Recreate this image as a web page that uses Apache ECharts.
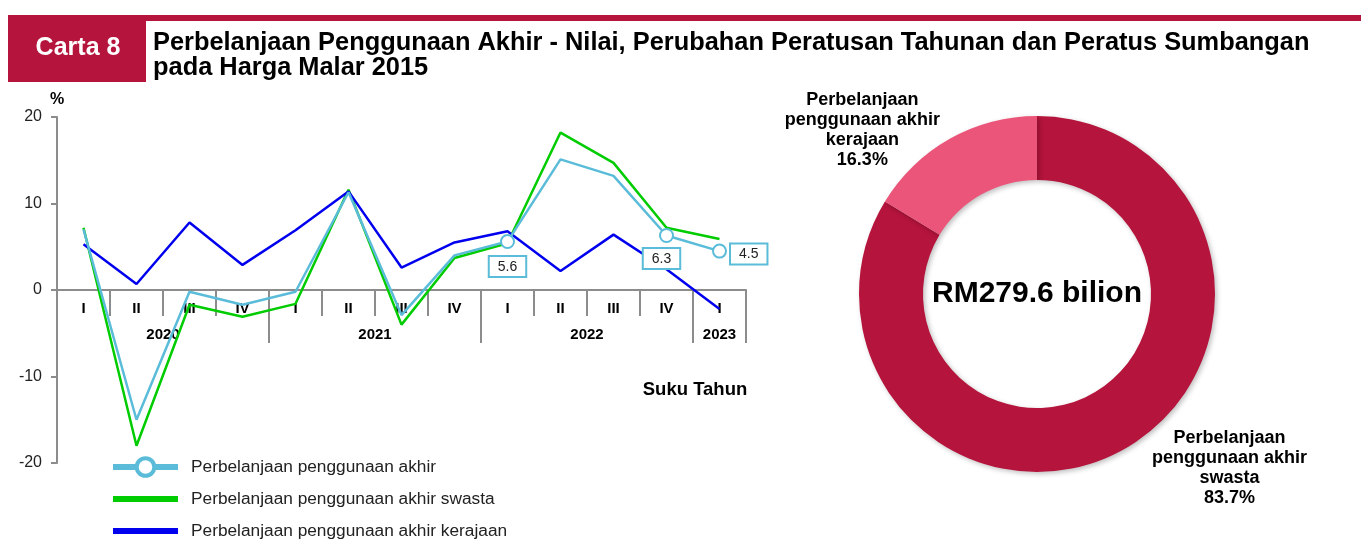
<!DOCTYPE html>
<html>
<head>
<meta charset="UTF-8">
<title>Carta 8</title>
<script src="https://cdn.jsdelivr.net/npm/echarts@6/dist/echarts.min.js"></script>
<style>
  html, body { margin: 0; padding: 0; background: #fff; }
  #main { width: 1361px; height: 547px; }
</style>
</head>
<body>
<div id="main"></div>
<script type="text/javascript">
// suku tahun (quarters) and years
var quarters = ['I', 'II', 'III', 'IV', 'I', 'II', 'III', 'IV', 'I', 'II', 'III', 'IV', 'I'];
var years = ['2020', '2021', '2022', '2023'];
var quartersPerYear = [4, 4, 4, 1];

// perubahan peratusan tahunan (%)
var jumlah = [7.0, -15.0, -0.2, -1.7, -0.2, 11.3, -2.9, 4.0, 5.6, 15.1, 13.2, 6.3, 4.5];
var swasta = [7.2, -18.0, -1.7, -3.1, -1.6, 11.6, -4.0, 3.7, 5.4, 18.2, 14.7, 7.2, 5.9];
var kerajaan = [5.3, 0.7, 7.8, 2.9, 6.9, 11.4, 2.6, 5.5, 6.8, 2.2, 6.4, 2.4, -2.2];

var seriesNames = ['Perbelanjaan penggunaan akhir', 'Perbelanjaan penggunaan akhir swasta', 'Perbelanjaan penggunaan akhir kerajaan'];

// sumbangan (%)
var shareNames = ['Perbelanjaan\npenggunaan akhir\nswasta', 'Perbelanjaan\npenggunaan akhir\nkerajaan'];
var shareValues = [83.7, 16.3];
var totalBilion = 279.6;

var yTicks = { min: -20, max: 20, interval: 10 };

var FONT = 'Arial, "Liberation Sans", sans-serif';
var GREY = '#8C8C8C';

// year label positions (in quarter units)
var yearLabelAt = {};
var acc = 0;
years.forEach(function (y, i) {
  yearLabelAt[(acc + quartersPerYear[i] / 2).toFixed(1)] = y;
  acc += quartersPerYear[i];
});

// only the last points get a marker and a boxed label
var labelled = {
  8: { position: 'bottom', distance: 8, offset: [0, 0] },
  11: { position: 'bottom', distance: 6, offset: [-5, 0] },
  12: { position: 'right', distance: 4, offset: [0, 3] }
};
var jumlahData = jumlah.map(function (v, i) {
  if (labelled[i]) {
    var l = labelled[i];
    return {
      value: v,
      label: {
        show: true, position: l.position, distance: l.distance, offset: l.offset,
        formatter: function (p) { return p.value.toFixed(1); },
        color: '#222', fontSize: 14, fontFamily: FONT,
        backgroundColor: '#fff', borderColor: '#5BBCD9', borderWidth: 2,
        padding: [3, 8, 2, 8]
      }
    };
  }
  return { value: v, symbol: 'none' };
});

var lineIcon = 'path://M0,0 H65 V6 H0 Z';

var chart = echarts.init(document.getElementById('main'));

var option = {
  animation: false,
  textStyle: { fontFamily: FONT },
  graphic: [
    { type: 'rect', shape: { x: 8, y: 15, width: 1353, height: 6 }, style: { fill: '#B5143C' } },
    { type: 'rect', shape: { x: 8, y: 15, width: 138, height: 67 }, style: { fill: '#B5143C' } },
    { type: 'text', x: 78, y: 48, style: { text: 'Carta 8', fill: '#fff', font: 'bold 25px ' + FONT, align: 'center', verticalAlign: 'middle' } },
    { type: 'text', x: 153, y: 43, style: { text: 'Perbelanjaan Penggunaan Akhir - Nilai, Perubahan Peratusan Tahunan dan Peratus Sumbangan', fill: '#000', font: 'bold 25.4px ' + FONT, verticalAlign: 'middle' } },
    { type: 'text', x: 153, y: 68, style: { text: 'pada Harga Malar 2015', fill: '#000', font: 'bold 25.4px ' + FONT, verticalAlign: 'middle' } },
    { type: 'text', x: 57, y: 100, style: { text: '%', fill: '#000', font: 'bold 16px ' + FONT, align: 'center', verticalAlign: 'middle' } },
    { type: 'text', x: 695, y: 390, style: { text: 'Suku Tahun', fill: '#000', font: 'bold 18.5px ' + FONT, align: 'center', verticalAlign: 'middle' } },
    { type: 'text', x: 1037, y: 294, z: 10, style: { text: 'RM' + totalBilion.toFixed(1) + ' bilion', fill: '#000', font: 'bold 30px ' + FONT, align: 'center', verticalAlign: 'middle' } }
  ],
  grid: [
    { left: 57, right: 615, top: 117, bottom: 84, outerBoundsMode: 'none' },
    // lower half, its top edge sits on the zero line and carries the quarter/year axes
    { left: 57, right: 615, top: 290, bottom: 84, outerBoundsMode: 'none' }
  ],
  legend: {
    orient: 'vertical', left: 110, top: 456, padding: 0, height: 90,
    itemWidth: 65, itemHeight: 22, itemGap: 10,
    data: [
      { name: seriesNames[0] },
      { name: seriesNames[1], icon: lineIcon },
      { name: seriesNames[2], icon: lineIcon }
    ],
    textStyle: { fontSize: 17.3, lineHeight: 22, color: '#222', fontFamily: FONT, padding: [0, 0, 0, 8] },
    lineStyle: { width: 6 },
    itemStyle: { borderWidth: 4 },
    selectedMode: false
  },
  xAxis: [
    { type: 'category', data: quarters, gridIndex: 0, show: false },
    {
      type: 'category', data: quarters, gridIndex: 1, position: 'top',
      axisLine: { show: true, onZero: false, lineStyle: { color: GREY, width: 2 } },
      axisTick: { show: true, inside: true, interval: 0, length: 26, lineStyle: { color: GREY, width: 2 } },
      axisLabel: { inside: true, interval: 0, margin: 11, color: '#000', fontWeight: 'bold', fontSize: 15 }
    },
    {
      // year separators
      type: 'value', gridIndex: 1, position: 'top', min: 0, max: quarters.length, interval: 4,
      axisLine: { show: false, onZero: false },
      axisTick: { show: true, inside: true, length: 53, lineStyle: { color: GREY, width: 2 } },
      axisLabel: { show: false }, splitLine: { show: false }
    },
    {
      // year labels
      type: 'value', gridIndex: 1, position: 'top', min: 0, max: quarters.length, interval: 0.5,
      axisLine: { show: false, onZero: false },
      axisTick: { show: false },
      axisLabel: {
        inside: true, margin: 37, color: '#000', fontWeight: 'bold', fontSize: 15,
        formatter: function (v) { return yearLabelAt[v.toFixed(1)] || ''; }
      },
      splitLine: { show: false }
    }
  ],
  yAxis: [
    {
      type: 'value', gridIndex: 0, min: yTicks.min, max: yTicks.max, interval: yTicks.interval,
      axisLine: { show: true, onZero: false, lineStyle: { color: GREY, width: 2 } },
      axisTick: { show: true, length: 6, lineStyle: { color: GREY, width: 2 } },
      axisLabel: { color: '#222', fontSize: 16, margin: 15 },
      splitLine: { show: false }
    },
    { type: 'value', gridIndex: 1, min: 0, max: 1, show: false }
  ],
  series: [
    {
      name: seriesNames[1], type: 'line', data: swasta, symbol: 'none',
      lineStyle: { color: '#00CC00', width: 2.5 }, itemStyle: { color: '#00CC00' }, z: 2
    },
    {
      name: seriesNames[2], type: 'line', data: kerajaan, symbol: 'none',
      lineStyle: { color: '#0000EE', width: 2.5 }, itemStyle: { color: '#0000EE' }, z: 3
    },
    {
      name: seriesNames[0], type: 'line', data: jumlahData,
      symbol: 'circle', symbolSize: 13,
      lineStyle: { color: '#5BBCD9', width: 2.5 },
      itemStyle: { color: '#fff', borderColor: '#5BBCD9', borderWidth: 2 }, z: 4
    },
    {
      type: 'pie', center: [1037, 294], radius: [114, 178],
      startAngle: 90, clockwise: true, avoidLabelOverlap: false,
      data: shareNames.map(function (n, i) {
        return {
          name: n, value: shareValues[i],
          itemStyle: { color: i === 0 ? '#B5143C' : '#EB557A' },
          labelLine: i === 0 ? { length: 22, length2: 12 } : { length: 10, length2: 0 }
        };
      }),
      itemStyle: { shadowBlur: 5, shadowColor: 'rgba(0,0,0,0.25)', shadowOffsetX: 2, shadowOffsetY: 2 },
      label: {
        position: 'outside', color: '#000', fontWeight: 'bold', fontSize: 18, lineHeight: 20,
        formatter: function (p) { return p.name + '\n' + p.value.toFixed(1) + '%'; }
      },
      labelLine: { show: false },
      labelLayout: function (p) {
        var r = p.labelRect;
        return { x: r.x + r.width / 2, align: 'center' };
      },
      emphasis: { disabled: true }
    }
  ]
};

chart.setOption(option);
</script>
</body>
</html>
